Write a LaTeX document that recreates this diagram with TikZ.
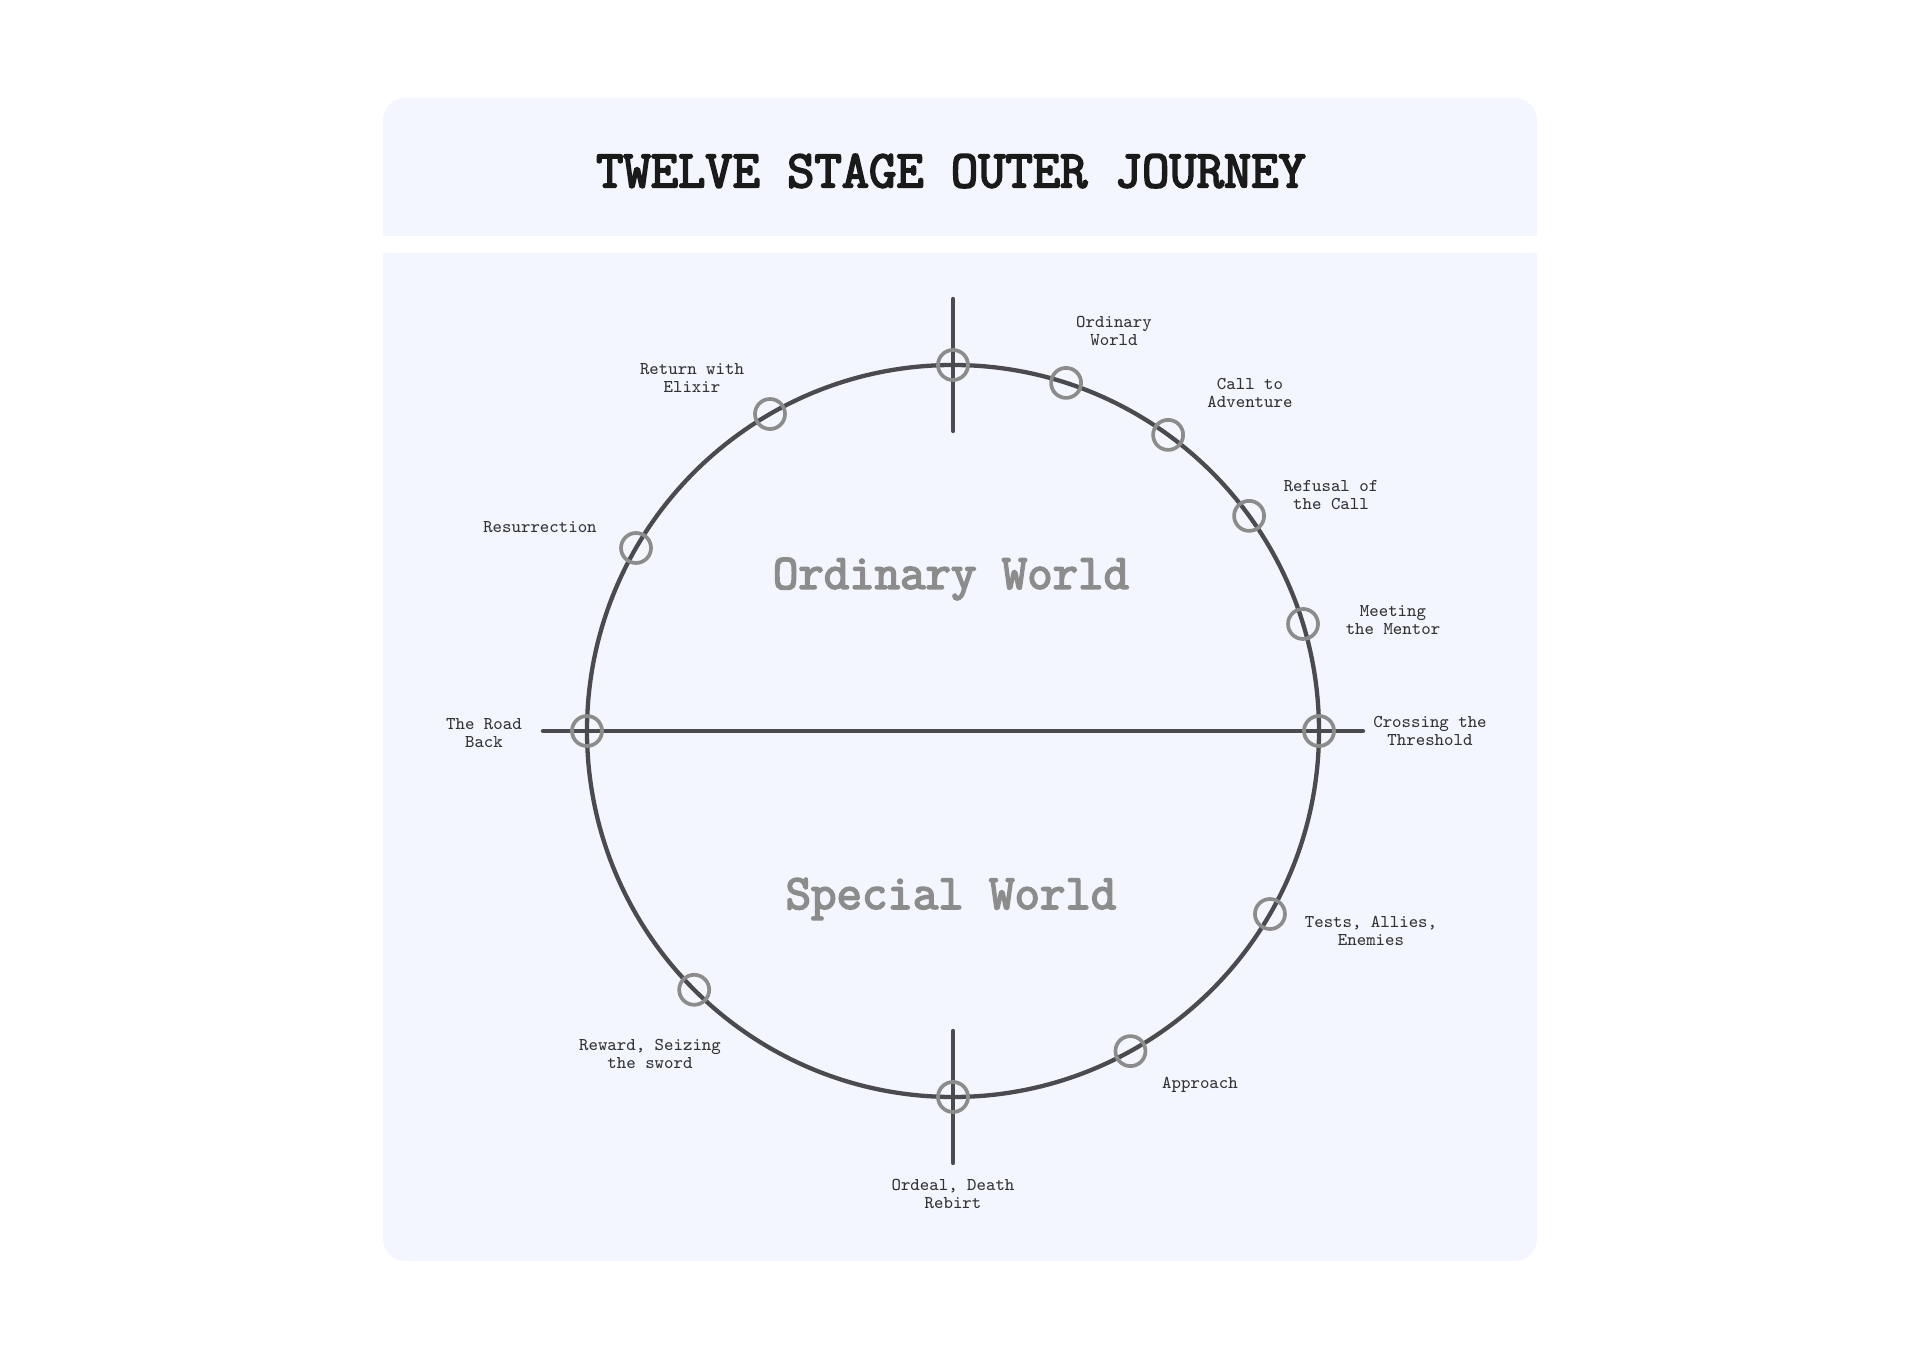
\documentclass[tikz,border=0pt]{standalone}
\usepackage{fontspec}
\newfontfamily\heavymono[FakeBold=3.5]{Latin Modern Mono}
\usetikzlibrary{positioning}
\definecolor{panel}{HTML}{F3F6FE}
\definecolor{ring}{HTML}{4A4A4F}
\definecolor{stagegrey}{HTML}{8C8C8C}
\definecolor{ink}{HTML}{333333}
\definecolor{title}{HTML}{1A1A1A}
\tikzset{
  wheel/.style={draw=ring, line width=2.15pt, line cap=round},
  stage/.style={circle, draw=stagegrey, line width=1.85pt, minimum size=15pt, inner sep=0pt},
  tag/.style={font=\ttfamily\fontsize{9}{9.2}\selectfont, text=ink, align=center},
  world/.style={font=\heavymono\fontsize{24.7}{26}\selectfont, text=stagegrey},
}
\begin{document}
\begin{tikzpicture}[x=0.5pt, y=0.5pt]
    \useasboundingbox (-953,-627) rectangle (967,731);
    % panel: title band and body
    \fill[panel, rounded corners=11pt] (-570,495) rectangle (584,633);
    \fill[panel] (-570,495) rectangle (584,560);
    \fill[panel, rounded corners=11pt] (-570,-530) rectangle (584,478);
    \fill[panel] (-570,400) rectangle (584,478);
    \node[font=\heavymono\fontsize{26.5}{28}\selectfont, text=title] (head) at (-2,560) {TWELVE STAGE OUTER JOURNEY};

    % wheel and the two crossing axes
    \draw[wheel] (0,0) circle (366);
    \coordinate (topA) at (0,432);   \coordinate (topB) at (0,300);
    \coordinate (botA) at (0,-300);  \coordinate (botB) at (0,-432);
    \coordinate (midL) at (-410,0);  \coordinate (midR) at (410,0);
    \draw[wheel] (topA) -- (topB);
    \draw[wheel] (botA) -- (botB);
    \draw[wheel] (midL) -- (midR);

    % stage markers on the wheel
    \foreach \a [count=\i] in {90,72,54,36,17,0,-30,-61,-90,-135,180,150,120}
      \node[stage] (s\i) at (\a:366) {};

    % stage names
    \foreach \x/\y/\t [count=\i] in {161/400/{Ordinary\\World}, 297/338/{Call to\\Adventure},
        378/236/{Refusal of\\the Call}, 440/111/{Meeting\\the Mentor}, 477/0/{Crossing the\\Threshold},
        418/-200/{Tests, Allies,\\Enemies}, 247/-354/{Approach}, 0/-463/{Ordeal, Death\\Rebirt},
        -303/-323/{Reward, Seizing\\the sword}, -469/-2/{The Road\\Back}, -413/204/{Resurrection},
        -261/353/{Return with\\Elixir}}
      \node[tag] (l\i) at (\x,\y) {\t};

    \node[world] (ow) at (-2,152) {Ordinary World};
    \node[world] (sw) at (-2,-168) {Special World};
  \end{tikzpicture}
\end{document}
